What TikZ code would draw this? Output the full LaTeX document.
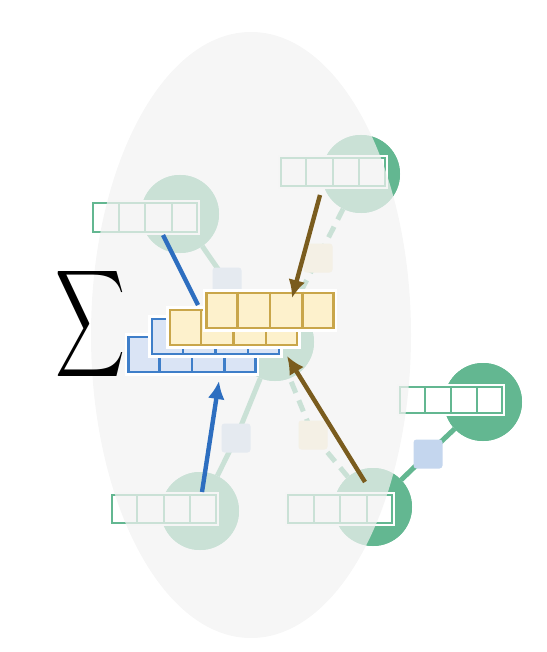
\documentclass[tikz,border=0pt]{standalone}
\usetikzlibrary{arrows.meta,calc}

\definecolor{nodegreen}{RGB}{99,183,145}
\definecolor{msgblue}{RGB}{196,214,238}
\definecolor{msgyellow}{RGB}{250,236,196}
\definecolor{hazegray}{RGB}{242,242,242}
\definecolor{rowbluedraw}{RGB}{62,126,201}
\definecolor{rowbluefill}{RGB}{218,228,245}
\definecolor{rowgolddraw}{RGB}{201,166,74}
\definecolor{rowgoldfill}{RGB}{253,241,204}
\definecolor{arrowblue}{RGB}{45,110,192}
\definecolor{arrowbrown}{RGB}{122,92,30}

% vertical dividers that split a box into four equal cells
\newcommand\quartercells[2]{%
  \foreach \t in {0.25,0.5,0.75}{%
    \draw[#2] ($(#1.north west)!\t!(#1.north east)$) -- ($(#1.south west)!\t!(#1.south east)$);}}

\begin{document}
\begin{tikzpicture}[x=1pt,y=-1pt,
  gnode/.style={circle, fill=nodegreen, minimum size=78pt, inner sep=0pt},
  edgeline/.style={draw=nodegreen, line width=5pt},
  edgedash/.style={edgeline, dash pattern=on 12pt off 8pt},
  msgsq/.style={rounded corners=3pt, minimum size=29pt, inner sep=0pt},
  featbox/.style={draw=nodegreen, line width=2pt, fill=white,
    minimum width=104pt, minimum height=28pt, inner sep=0pt,
    preaction={draw=white, line width=6pt}},
  featline/.style={draw=nodegreen, line width=2pt},
  bluerow/.style={draw=rowbluedraw, fill=rowbluefill, line width=2.6pt,
    minimum width=127pt, minimum height=35pt, inner sep=0pt,
    preaction={draw=white, line width=7.5pt}},
  goldrow/.style={draw=rowgolddraw, fill=rowgoldfill, line width=2.6pt,
    minimum width=127pt, minimum height=35pt, inner sep=0pt,
    preaction={draw=white, line width=7.5pt}},
  bluediv/.style={draw=rowbluedraw, line width=2.6pt},
  golddiv/.style={draw=rowgolddraw, line width=2.6pt},
  flow/.style={line width=4.4pt},
  flowtip/.style={flow, -{Latex[length=18pt,width=17pt]}}
]
\useasboundingbox (0,0) rectangle (546,652);

% graph nodes
\node[gnode] (c)  at (275,342) {};
\node[gnode] (n1) at (180,214) {};
\node[gnode] (n2) at (361,174) {};
\node[gnode] (n3) at (200,511) {};
\node[gnode] (n4) at (373,507) {};
\node[gnode] (n5) at (483,402) {};

% message squares on the edges
\coordinate (s1) at (227,282);
\coordinate (s2) at (318,258);
\coordinate (s3) at (236,438);
\coordinate (s4) at (313,435);
\coordinate (s5) at (428,454);

% edges
\draw[edgeline] (n1) -- (s1) -- (c);
\draw[edgedash] (n2) -- (s2) -- (c);
\draw[edgeline] (n3) -- (s3) -- (c);
\draw[edgedash] (n4) -- (s4) -- (c);
\draw[edgeline] (n4) -- (s5) -- (n5);

% redraw nodes over edge ends
\foreach \n in {c,n1,n2,n3,n4,n5}{\fill[nodegreen] (\n) circle (39pt);}

\node[msgsq, fill=msgblue]   (m1) at (s1) {};
\node[msgsq, fill=msgyellow] (m2) at (s2) {};
\node[msgsq, fill=msgblue]   (m3) at (s3) {};
\node[msgsq, fill=msgyellow] (m4) at (s4) {};
\node[msgsq, fill=msgblue]   (m5) at (s5) {};

% node feature vectors
\node[featbox] (b1) at (145,217.5) {};
\node[featbox] (b2) at (332.5,172.5) {};
\node[featbox] (b3) at (163.5,509) {};
\node[featbox] (b4) at (340,509) {};
\node[featbox, minimum width=102pt, minimum height=26pt] (b5) at (451,400) {};
\foreach \b in {b1,b2,b3,b4,b5}{\quartercells{\b}{featline}}

% neighbourhood haze
\fill[hazegray, opacity=0.72] (251,335) ellipse [x radius=160pt, y radius=303pt];

% stacked messages
\node[bluerow] (r1) at (192,354.5) {};
\quartercells{r1}{bluediv}
\node[bluerow] (r2) at (215.5,336.5) {};
\quartercells{r2}{bluediv}
\node[goldrow] (r3) at (233.5,327.5) {};
\quartercells{r3}{golddiv}
\node[goldrow] (r4) at (270,310.5) {};
\quartercells{r4}{golddiv}

% message flows
\coordinate (p1) at (163,235);
\coordinate (q1) at (198,305);
\coordinate (p2) at (202,492);
\coordinate (q2) at (219,381);
\coordinate (p3) at (320,195);
\coordinate (q3) at (292,298);
\coordinate (p4) at (365,482);
\coordinate (q4) at (287,356);
\draw[flow, arrowblue] (p1) -- (q1);
\draw[flowtip, arrowblue] (p2) -- (q2);
\draw[flowtip, arrowbrown] (p3) -- (q3);
\draw[flowtip, arrowbrown] (p4) -- (q4);

% aggregation symbol
\node[inner sep=0pt] (sum) at (90.5,324) {\resizebox*{70pt}{120pt}{$\displaystyle\sum$}};
\end{tikzpicture}
\end{document}
